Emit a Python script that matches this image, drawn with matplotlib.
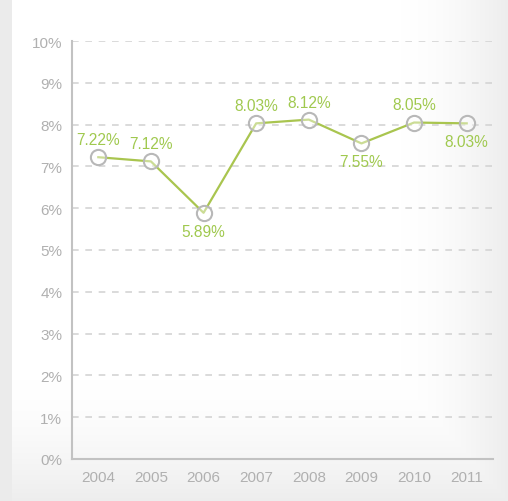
import matplotlib.pyplot as plt
import numpy as np

years = ["2004", "2005", "2006", "2007", "2008", "2009", "2010", "2011"]
rates = [7.22, 7.12, 5.89, 8.03, 8.12, 7.55, 8.05, 8.03]
# where each value label sits: "above" or "below" the point
label_pos = ["above", "above", "below", "above", "above", "below", "above", "below"]
ytick_vals = [0, 1, 2, 3, 4, 5, 6, 7, 8, 9, 10]

plt.rcParams['font.family'] = ['Liberation Sans Narrow', 'Liberation Sans', 'DejaVu Sans']

fig = plt.figure(figsize=(5.08, 5.02), dpi=100)

# soft grey backdrop with a white panel fading out at the right and bottom
bg = fig.add_axes([0, 0, 1, 1], zorder=-10)
h, w = 502, 508
yy, xx = np.mgrid[0:h, 0:w]
fade_r = np.clip((xx - 400) / 108.0, 0, 1) ** 1.6
fade_b = np.clip((yy - 380) / 122.0, 0, 1) ** 1.6
shade = 1.0 - 0.07 * np.maximum(fade_r, fade_b)
shade[:, :12] = 0.925
img = np.dstack([shade, shade, shade])
bg.imshow(img, aspect='auto', extent=[0, 1, 0, 1])
bg.axis('off')

ax = fig.add_axes([0.1417, 0.0837, 0.8288, 0.8326])
ax.patch.set_alpha(0)

x = np.arange(len(years))
ax.plot(x, rates, color='#a9c54f', lw=1.6, zorder=3)
ax.scatter(x, rates, s=120, facecolor=(1, 1, 1, 0.4), edgecolor='#b8b8b8',
           linewidth=1.5, zorder=4)

for xi, r, pos in zip(x, rates, label_pos):
    dy = 0.42 if pos == "above" else -0.44
    ax.text(xi, r + dy, "{:.2f}%".format(r), ha='center', va='center',
            fontsize=11.2, color='#a0c94f', zorder=5)

ax.set_xlim(-0.5, 7.5)
ax.set_ylim(0, 10)
ax.set_xticks(x)
ax.set_xticklabels(years)
ax.set_yticks(ytick_vals)
ax.set_yticklabels(["{}%".format(v) for v in ytick_vals])
ax.tick_params(length=0, labelsize=11, labelcolor='#b0b0b0', pad=8)
ax.tick_params(axis='y', pad=7)

for v in ytick_vals[1:]:
    ax.axhline(v, color='#d4d4d4', lw=1.2, ls=(0, (4, 4)), zorder=1)

for s in ['top', 'right']:
    ax.spines[s].set_visible(False)
for s in ['left', 'bottom']:
    ax.spines[s].set_color('#c2c2c2')
    ax.spines[s].set_linewidth(1.5)

fig.savefig("out.png", dpi=100)
